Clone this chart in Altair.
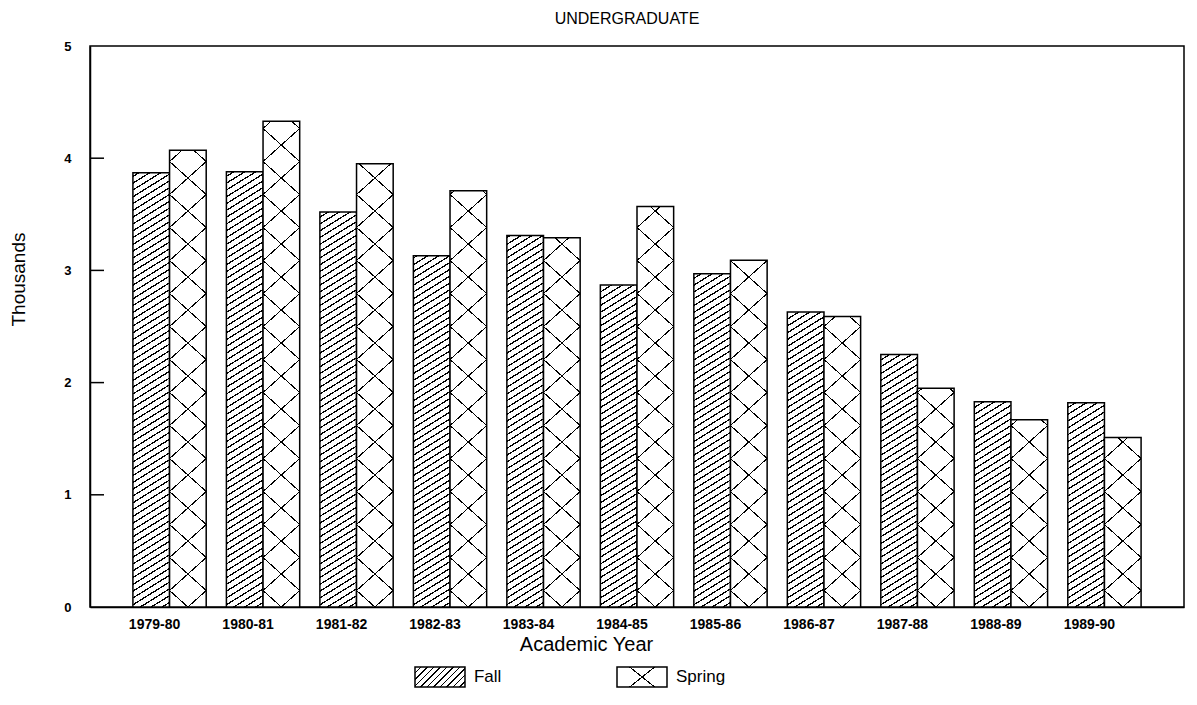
import altair as alt
import pandas as pd

# ---------------- data ----------------
years = ["1979-80", "1980-81", "1981-82", "1982-83", "1983-84", "1984-85",
         "1985-86", "1986-87", "1987-88", "1988-89", "1989-90"]
terms = ["Fall", "Spring"]
fall = [3.87, 3.88, 3.52, 3.13, 3.31, 2.87, 2.97, 2.63, 2.25, 1.83, 1.82]
spring = [4.07, 4.33, 3.95, 3.71, 3.29, 3.57, 3.09, 2.59, 1.95, 1.67, 1.51]
y_ticks = [1, 2, 3, 4]

# ---------------- layout / style ----------------
FONT = "Liberation Sans"
PLOT_W, PLOT_H = 1094, 561
Y_MAX = 5
PAD_INNER, PAD_OUTER = 0.216, 0.459
STEP = PLOT_W / (len(years) - PAD_INNER + 2 * PAD_OUTER)
BAR_W = STEP * (1 - PAD_INNER) / 2
LEG_W, LEG_H = 577, 20
LEG_PI, LEG_PO = 0.7525, 0.8044
SW = 1.5

rows = []
for i, y in enumerate(years):
    rows.append({"year": y, "term": "Fall", "value": fall[i]})
    rows.append({"year": y, "term": "Spring", "value": spring[i]})
df = pd.DataFrame(rows)
tick_df = pd.DataFrame({"tick": y_ticks})
leg_df = pd.DataFrame({"term": terms})


def stripes(W, H, slope, period, thick, rising, anchor_y, fg="black", bg="white"):
    """Linear gradient (bounding-box units) that draws parallel hatch lines."""
    r = slope * W / H
    lam = (r + 1) / (r * r + 1)
    if rising:
        x1, y1, x2, y2 = 0, 0, lam * r, lam
        t_anchor = (0.5 * r + anchor_y / H) / (r + 1)
    else:
        x1, y1, x2, y2 = 0, 1, lam * r, 1 - lam
        t_anchor = (0.5 * r + 1 - anchor_y / H) / (r + 1)
    dt = period / (H * (r + 1))
    wt = thick / (H * (r + 1))
    k_min = int(-t_anchor / dt) - 2
    k_max = int((1 - t_anchor) / dt) + 2
    stops = [{"offset": 0, "color": bg}]
    for k in range(k_min, k_max + 1):
        c = t_anchor + k * dt
        a = max(0.0, c - wt / 2)
        b = min(1.0, c + wt / 2)
        if b <= a:
            continue
        a, b = round(a, 5), round(b, 5)
        stops += [{"offset": a, "color": bg}, {"offset": a, "color": fg},
                  {"offset": b, "color": fg}, {"offset": b, "color": bg}]
    stops.append({"offset": 1, "color": bg})
    return {"gradient": "linear", "x1": round(x1, 6), "y1": round(y1, 6),
            "x2": round(x2, 6), "y2": round(y2, 6), "stops": stops}


def fall_fill(W, H):
    return stripes(W, H, 0.62, 6.8, 1.5, True, H)


def spring_fill_a(W, H, period):
    return stripes(W, H, period / W, period, 1.4, True, H)


def spring_fill_b(W, H, period):
    return stripes(W, H, period / W, period, 1.4, False, H, bg="transparent")


# ---------------- encodings ----------------
x_axis = alt.Axis(labelFont=FONT, labelFontSize=14, labelFontWeight="bold", labelColor="black",
                  labelPadding=10, labelOffset=-15, labelAngle=0, ticks=False,
                  domainColor="black", domainWidth=SW,
                  titleFont=FONT, titleFontSize=20, titleFontWeight="normal", titleColor="black",
                  titleX=496, titleY=37, titleAlign="center", titleBaseline="middle")
y_axis = alt.Axis(values=[0, 1, 2, 3, 4, 5], labelFont=FONT, labelFontSize=13, labelFontWeight="bold",
                  labelColor="black", labelPadding=19, ticks=False, grid=False,
                  domainColor="black", domainWidth=SW,
                  titleFont=FONT, titleFontSize=19, titleFontWeight="normal", titleColor="black",
                  titleX=-72, titleY=233, titleAngle=270, titleAlign="center", titleBaseline="middle")

x_enc = alt.X("year:N", scale=alt.Scale(domain=years, paddingInner=PAD_INNER, paddingOuter=PAD_OUTER),
              axis=x_axis, title="Academic Year")
xo_enc = alt.XOffset("term:N", scale=alt.Scale(domain=terms, paddingInner=0, paddingOuter=0))
y_scale = alt.Scale(domain=[0, Y_MAX], nice=False, zero=True)
y_enc = alt.Y("value:Q", scale=y_scale, axis=y_axis, title="Thousands")

layers = []
for i, yr in enumerate(years):
    for term, vals in (("Fall", fall), ("Spring", spring)):
        H = vals[i] / Y_MAX * PLOT_H
        base = alt.Chart(df).transform_filter(
            f"datum.year == '{yr}' && datum.term == '{term}'")
        if term == "Fall":
            layers.append(base.mark_bar(fill=fall_fill(BAR_W, H), stroke="black", strokeWidth=SW)
                          .encode(x=x_enc, xOffset=xo_enc, y=y_enc))
        else:
            layers.append(base.mark_bar(fill=spring_fill_a(BAR_W, H, 33), stroke="black", strokeWidth=SW)
                          .encode(x=x_enc, xOffset=xo_enc, y=y_enc))
            layers.append(base.mark_bar(fill=spring_fill_b(BAR_W, H, 33), strokeWidth=0)
                          .encode(x=x_enc, xOffset=xo_enc, y=y_enc))

ticks = alt.Chart(tick_df).mark_rule(color="black", strokeWidth=SW).encode(
    y=alt.Y("tick:Q", scale=y_scale, axis=y_axis, title="Thousands"),
    x=alt.value(0), x2=alt.value(14))
layers.append(ticks)

main = alt.layer(*layers).properties(
    width=PLOT_W, height=PLOT_H,
    title=alt.TitleParams("UNDERGRADUATE", font=FONT, fontSize=16, fontWeight="normal",
                          color="black", offset=13, anchor="middle", dx=-10),
    view=alt.ViewBackground(stroke="black", strokeWidth=SW))

# ---------------- legend (its own small view) ----------------
LEG_SW = LEG_W / (len(terms) - LEG_PI + 2 * LEG_PO) * (1 - LEG_PI)
x_leg = alt.X("term:N", scale=alt.Scale(domain=terms, paddingInner=LEG_PI, paddingOuter=LEG_PO, align=1),
              axis=None)
leg_base = alt.Chart(leg_df)
leg_fall = leg_base.transform_filter("datum.term == 'Fall'").mark_rect(
    fill=stripes(LEG_SW, LEG_H, 1.0, 6.5, 1.5, True, LEG_H), stroke="black", strokeWidth=SW
).encode(x=x_leg)
leg_spring_a = leg_base.transform_filter("datum.term == 'Spring'").mark_rect(
    fill=stripes(LEG_SW, LEG_H, 0.8, 40, 1.4, True, LEG_H / 2), stroke="black", strokeWidth=SW
).encode(x=x_leg)
leg_spring_b = leg_base.transform_filter("datum.term == 'Spring'").mark_rect(
    fill=stripes(LEG_SW, LEG_H, 0.8, 40, 1.4, False, LEG_H / 2, bg="transparent"), strokeWidth=0
).encode(x=x_leg)
leg_text = leg_base.mark_text(align="left", baseline="middle", dx=LEG_SW / 2 + 9,
                              font=FONT, fontSize=17, color="black").encode(x=x_leg, text="term:N")
legend = alt.layer(leg_fall, leg_spring_a, leg_spring_b, leg_text).properties(
    width=LEG_W, height=LEG_H)

chart = alt.vconcat(main, legend, spacing=60, bounds="flush").properties(
    padding={"left": 0, "top": 2, "right": 0, "bottom": 5},
    background="white",
).configure_view(stroke="transparent")

chart.save("out.html", embed_options={"renderer": "svg", "actions": False})
